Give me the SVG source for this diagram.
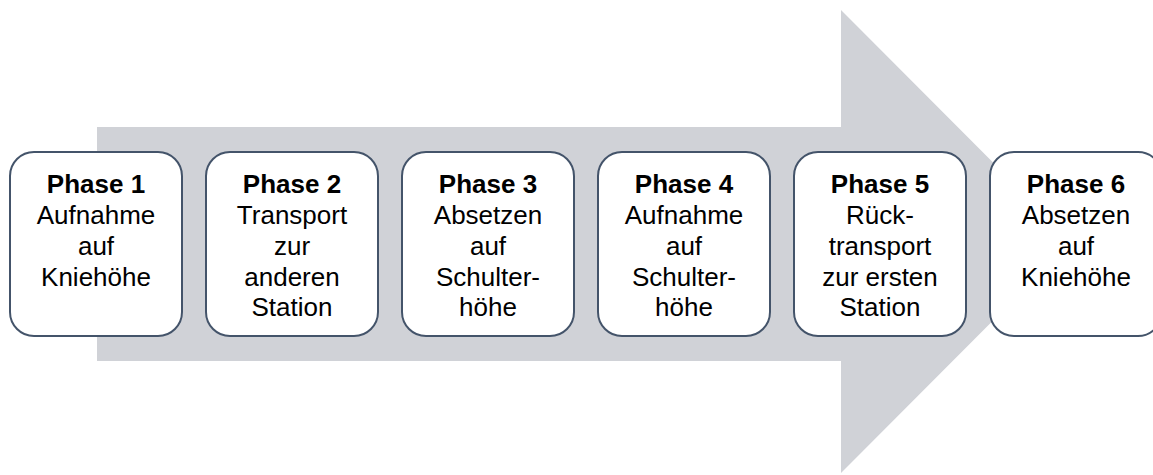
<svg xmlns="http://www.w3.org/2000/svg" width="1153" height="475" viewBox="0 0 1153 475">
<style>
.box{fill:#ffffff;stroke:#44546A;stroke-width:2}
text{font-family:"Liberation Sans",Arial,sans-serif;font-size:26px;fill:#000000;text-anchor:middle}
.h{font-weight:bold}
</style>
<rect width="1153" height="475" fill="#ffffff"/>
<g id="arrow">
<polygon points="97,127 841,127 841,10 1072,241.5 841,473 841,361 97,361" fill="#D0D2D7"/>
</g>
<g id="connectors"></g>
<g id="phase1">
<rect class="box" x="10" y="152" width="172" height="184" rx="24"/>
<text x="96" y="193" class="h">Phase 1</text>
<text x="96" y="224">Aufnahme</text>
<text x="96" y="255">auf</text>
<text x="96" y="286">Kniehöhe</text>
</g>
<g id="phase2">
<rect class="box" x="206" y="152" width="172" height="184" rx="24"/>
<text x="292" y="193" class="h">Phase 2</text>
<text x="292" y="224">Transport</text>
<text x="292" y="255">zur</text>
<text x="292" y="286">anderen</text>
<text x="292" y="316">Station</text>
</g>
<g id="phase3">
<rect class="box" x="402" y="152" width="172" height="184" rx="24"/>
<text x="488" y="193" class="h">Phase 3</text>
<text x="488" y="224">Absetzen</text>
<text x="488" y="255">auf</text>
<text x="488" y="286">Schulter-</text>
<text x="488" y="316">höhe</text>
</g>
<g id="phase4">
<rect class="box" x="598" y="152" width="172" height="184" rx="24"/>
<text x="684" y="193" class="h">Phase 4</text>
<text x="684" y="224">Aufnahme</text>
<text x="684" y="255">auf</text>
<text x="684" y="286">Schulter-</text>
<text x="684" y="316">höhe</text>
</g>
<g id="phase5">
<rect class="box" x="794" y="152" width="172" height="184" rx="24"/>
<text x="880" y="193" class="h">Phase 5</text>
<text x="880" y="224">Rück-</text>
<text x="880" y="255">transport</text>
<text x="880" y="286">zur ersten</text>
<text x="880" y="316">Station</text>
</g>
<g id="phase6">
<rect class="box" x="990" y="152" width="172" height="184" rx="24"/>
<text x="1076" y="193" class="h">Phase 6</text>
<text x="1076" y="224">Absetzen</text>
<text x="1076" y="255">auf</text>
<text x="1076" y="286">Kniehöhe</text>
</g>
</svg>
